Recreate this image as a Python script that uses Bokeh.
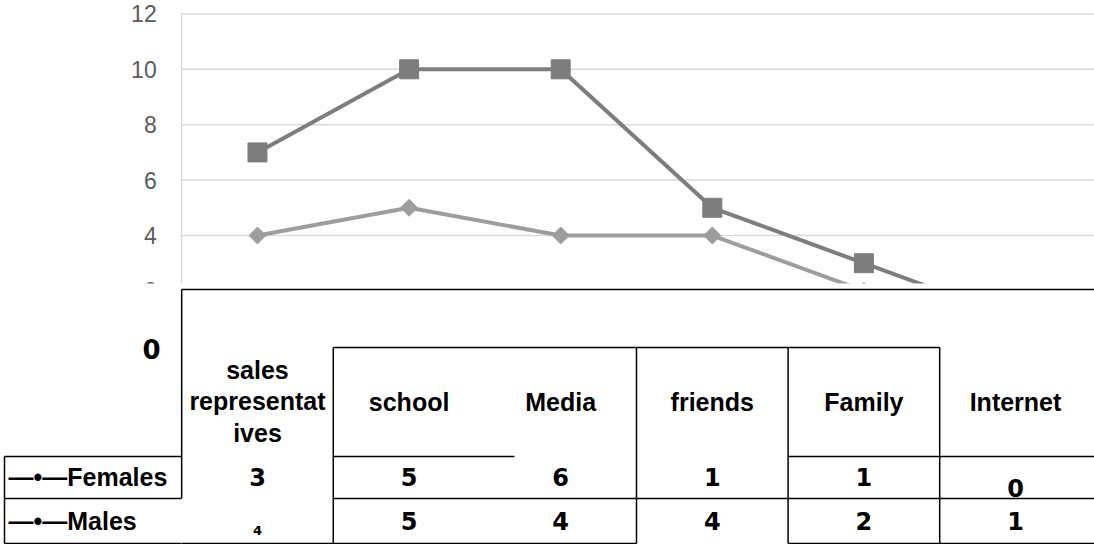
import numpy as np
from bokeh.plotting import figure
from bokeh.models import Range1d, ColumnDataSource
from bokeh.core.properties import value
from bokeh.embed import file_html
from bokeh.resources import INLINE

# ---- data ----
categories = ["sales\nrepresentat\nives", "school", "Media", "friends", "Family", "Internet"]
females = [3, 5, 6, 1, 1, 0]
males = [4, 5, 4, 4, 2, 1]
series_labels = ["\u2014\u2022\u2014Females", "\u2014\u2022\u2014Males"]
y_ticks = [0, 2, 4, 6, 8, 10, 12]

idx = np.arange(len(categories))
stacked = np.array(females) + np.array(males)   # upper line: females stacked on males

# ---- layout constants ----
W, H = 1094, 544
SPLIT = 283                 # chart area ends here (pixels from top); the table sits below
X_START, X_END = -1.695, 5.521
SQ_COLOR = "#7d7d7d"
DI_COLOR = "#9d9d9d"
GRID = "#d9d9d9"
LABEL_FONT = "Liberation Sans"
DIGIT_FONT = "DejaVu Sans"

p = figure(width=W, height=H, x_range=Range1d(X_START, X_END), y_range=Range1d(-7.155, 12.484),
           x_axis_location=None, y_axis_location=None, output_backend="svg", toolbar_location=None,
           min_border=0)
p.extra_x_ranges = {"px": Range1d(0, W)}
p.extra_y_ranges = {"px": Range1d(H, 0)}
p.outline_line_color = None
p.xgrid.visible = False
p.ygrid.visible = False

# ---- line chart ----
grid_vals = y_ticks[1:]
n = len(grid_vals)
p.segment([-0.5] * n, grid_vals, [X_END] * n, grid_vals, line_color=GRID, line_width=1.5)
p.segment([-0.5], [y_ticks[1]], [-0.5], [y_ticks[-1]], line_color=GRID, line_width=1.5)
p.text([-0.5] * n, grid_vals, text=[str(v) for v in grid_vals], x_offset=-25,
       text_font=value("Liberation Sans"), text_font_size="23px", text_color="#5a5a5a",
       text_align="right", text_baseline="middle")

p.line(idx, stacked, line_color=SQ_COLOR, line_width=4)
p.scatter(idx, stacked, marker="square", size=19, fill_color=SQ_COLOR, line_color=SQ_COLOR)
p.line(idx, males, line_color=DI_COLOR, line_width=4)
p.scatter(idx, males, marker="square", angle=np.pi / 4, size=12, fill_color=DI_COLOR, line_color=DI_COLOR)

# the table panel covers the lower part of the chart
p.quad(left=[0], right=[W], top=[SPLIT], bottom=[H], fill_color="white", line_color=None,
       x_range_name="px", y_range_name="px")

# ---- data table ----
e = idx - 0.5   # column edges
ROW_TOP, HEAD_SPLIT, FEM_TOP, MALE_TOP, BOTTOM = 289, 347, 456, 498, 543
tbl = dict(line_color="black", line_width=1.5, y_range_name="px")

hx0 = [e[0], e[1], e[1], e[4], e[1], e[0], e[4]]
hx1 = [X_END, e[5], 1.695, X_END, X_END, e[3], X_END]
hy = [ROW_TOP, HEAD_SPLIT, FEM_TOP, FEM_TOP, MALE_TOP, BOTTOM, BOTTOM]
p.segment(hx0, hy, hx1, hy, **tbl)
vx = [e[0], e[1], e[3], e[4], e[5]]
vy0 = [ROW_TOP, HEAD_SPLIT, HEAD_SPLIT, HEAD_SPLIT, HEAD_SPLIT]
vy1 = [MALE_TOP, BOTTOM, BOTTOM, BOTTOM, BOTTOM]
p.segment(vx, vy0, vx, vy1, **tbl)

# series-name cells on the left
p.segment([4, 4, 4, 4], [FEM_TOP, MALE_TOP, BOTTOM, FEM_TOP], [181, 181, 181, 4],
          [FEM_TOP, MALE_TOP, BOTTOM, BOTTOM], x_range_name="px", **tbl)
p.text([8, 8], [476, 520], text=series_labels, text_font=value(LABEL_FONT), text_font_size="25px",
       text_font_style="bold", text_align="left", text_baseline="middle", text_color="black",
       x_range_name="px", y_range_name="px")

# zero label of the value axis
p.text([151], [348], text=[str(y_ticks[0])], text_font=value(DIGIT_FONT), text_font_size="26px",
       text_font_style="bold", text_align="center", text_baseline="middle",
       x_range_name="px", y_range_name="px")

# category headers
p.text(idx, [401] * len(idx), text=categories, text_font=value(LABEL_FONT), text_font_size="25px",
       text_font_style="bold", text_align="center", text_baseline="middle", text_line_height=1.12,
       text_color="black", y_range_name="px")

# values
fem_src = ColumnDataSource(dict(x=idx, y=[476, 476, 476, 476, 476, 487], t=[str(v) for v in females],
                                fs=["24px"] * 6))
p.text("x", "y", text="t", source=fem_src, text_font=value(DIGIT_FONT), text_font_size="fs",
       text_font_style="bold", text_align="center", text_baseline="middle", y_range_name="px")
male_src = ColumnDataSource(dict(x=idx, y=[530, 520, 520, 520, 520, 520], t=[str(v) for v in males],
                                 fs=["13px"] + ["24px"] * 5))
p.text("x", "y", text="t", source=male_src, text_font=value(DIGIT_FONT), text_font_size="fs",
       text_font_style="bold", text_align="center", text_baseline="middle", y_range_name="px")

open("out.html", "w").write(file_html(p, INLINE))
